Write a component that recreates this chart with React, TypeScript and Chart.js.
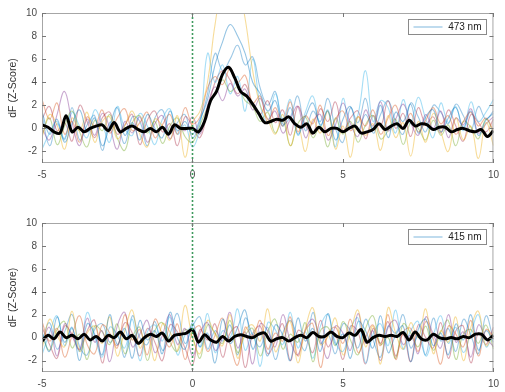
import React, { useEffect, useRef } from "react";
import { Chart, registerables } from "chart.js";

Chart.register(...registerables);

// ---------- data ----------
const TIME_TRACE = [
  -5, -4.75, -4.5, -4.25, -4, -3.75, -3.5, -3.25, -3, -2.75,
  -2.5, -2.25, -2, -1.75, -1.5, -1.25, -1, -0.75, -0.5, -0.25,
  0, 0.25, 0.5, 0.75, 1, 1.25, 1.5, 1.75, 2, 2.25,
  2.5, 2.75, 3, 3.25, 3.5, 3.75, 4, 4.25, 4.5, 4.75,
  5, 5.25, 5.5, 5.75, 6, 6.25, 6.5, 6.75, 7, 7.25,
  7.5, 7.75, 8, 8.25, 8.5, 8.75, 9, 9.25, 9.5, 9.75, 10,
];

const TIME_MEAN = [
  -5, -4.8, -4.6, -4.4, -4.2, -4, -3.8, -3.6, -3.4, -3.2,
  -3, -2.8, -2.6, -2.4, -2.2, -2, -1.8, -1.6, -1.4, -1.2,
  -1, -0.8, -0.6, -0.4, -0.2, 0, 0.2, 0.4, 0.6, 0.8,
  1, 1.2, 1.4, 1.6, 1.8, 2, 2.2, 2.4, 2.6, 2.8,
  3, 3.2, 3.4, 3.6, 3.8, 4, 4.2, 4.4, 4.6, 4.8,
  5, 5.2, 5.4, 5.6, 5.8, 6, 6.2, 6.4, 6.6, 6.8,
  7, 7.2, 7.4, 7.6, 7.8, 8, 8.2, 8.4, 8.6, 8.8,
  9, 9.2, 9.4, 9.6, 9.8, 10,
];

const X_TICKS = [-5, 0, 5, 10];
const Y_TICKS = [-2, 0, 2, 4, 6, 8, 10];
const Y_LABEL = "dF (Z-Score)";
const LEGEND_TOP = "473 nm";
const LEGEND_BOTTOM = "415 nm";

// mean traces (thick black)
const TOP_MEAN = [
  0.3, 0.1, -0.3, -0.4, 1.1, -0.3, 0.1, -0.3, 0.0, 0.2,
  0.3, -0.2, 0.5, -0.3, 0.0, 0.2, -0.1, -0.3, 0.0, -0.3,
  0.1, -0.5, 0.3, 0.0, 0.0, 0.0, -0.3, 0.6, 2.4, 3.2,
  4.7, 5.3, 4.4, 3.2, 2.8, 2.1, 1.3, 0.5, 0.6, 0.8,
  0.7, 1.0, 0.4, 0.1, 0.4, -0.4, 0.1, -0.3, 0.0, 0.0,
  -0.3, 0.0, 0.2, -0.4, -0.3, -0.1, 0.4, -0.1, 0.2, 0.4,
  0.0, 0.7, 0.2, 0.4, 0.3, -0.1, 0.1, 0.1, -0.3, -0.1,
  0.0, -0.2, -0.3, -0.1, -0.7, -0.2,
];

const BOTTOM_MEAN = [
  -0.3, 0.2, -0.1, 0.5, 0.0, 0.2, -0.1, 0.3, -0.2, 0.1,
  -0.3, 0.2, 0.0, 0.5, -0.1, 0.2, -0.5, 0.0, 0.3, 0.1,
  0.4, -0.3, 0.2, 0.3, 0.4, 0.7, -0.4, 0.25, -0.2, -0.4,
  0.1, -0.3, 0.1, 0.25, 0.1, 0.0, 0.3, 0.4, -0.3, -0.1,
  0.0, -0.3, 0.0, 0.2, 0.0, 0.45, 0.1, 0.1, 0.5, 0.1,
  0.0, 0.4, 0.2, 0.7, -0.4, 0.0, 0.2, 0.1, 0.2, 0.1,
  0.45, -0.2, 0.5, -0.1, -0.2, 0.3, 0.0, -0.1, 0.0, -0.1,
  0.1, 0.0, 0.3, 0.3, -0.2, 0.2,
];

// individual trials, 473 nm
const TOP_T1 = [
  1.5, -0.5, 0.8, -1.2, 0.4, 1.6, -0.3, 0.9, -1.5, 0.2,
  1.8, -0.6, 0.5, -1.0, 1.2, 0.0, -0.8, 1.5, -0.2, 0.6,
  -0.5, 0.8, 2.5, 5.5, 7.5, 9.0, 8.0, 6.5, 4.0, 3.0, 1.5,
  2.4, 0.2, 1.8, -0.5, 1.0, 2.2, 0.3, 1.5, -1.0, 0.8,
  1.9, -0.2, 1.2, 0.0, 2.0, -0.8, 1.4, 0.6, 2.1, -0.4,
  1.0, 1.6, -0.3, 0.9, 1.8, 0.1, 1.5, -0.6, 0.7, 1.3,
];
const TOP_T2 = [
  -0.8, 1.2, 0.3, -1.8, 0.9, -0.2, 1.4, -1.2, 0.6, 1.0,
  -0.9, 0.2, 1.5, -0.5, -1.6, 0.8, 0.2, -1.0, 1.1, -2.5,
  0.5, 1.5, 4.0, 9.0, 12.0, 11.0, 12.5, 9.5, 5.0, 2.0, 0.8,
  -0.5, 1.2, -1.5, 0.3, -2.0, 0.8, -0.4, 1.5, -1.8, 0.2,
  -2.5, 1.0, -0.6, 0.4, -1.9, 1.1, -0.8, 0.5, -2.4, 0.6,
  -1.2, 1.3, -0.3, -2.0, 0.9, -1.0, 0.2, -2.6, 0.5, -1.5,
];
const TOP_T3 = [
  2.5, 0.8, 2.2, -0.5, 0.6, -1.2, 1.0, 0.2, 1.6, -0.4,
  0.9, 1.7, -0.2, 0.5, 1.4, -0.8, 0.3, 1.2, -0.5, 1.8,
  0.4, 1.0, 3.5, 4.5, 3.8, 5.2, 4.0, 4.6, 2.2, 2.8, 0.5,
  1.8, 0.2, 2.3, -0.3, 1.1, 0.4, 2.0, -0.6, 0.8, 1.5,
  -0.2, 1.0, 0.2, 1.6, -0.5, 0.9, 2.0, 0.0, 1.3, -0.3,
  0.7, 1.8, 0.4, 1.1, -0.5, 0.6, 1.4, 0.2, 0.9, -0.2,
];
const TOP_T4 = [
  0.0, -1.0, 1.2, 3.2, 0.5, -1.5, 0.8, -0.6, 1.3, 0.1,
  -1.8, 0.6, -0.4, 1.0, -1.2, 0.4, 1.1, -0.9, 0.3, -0.2,
  1.0, -0.5, 2.0, 3.6, 2.4, 3.9, 2.8, 3.4, 1.6, 2.6, 0.8,
  1.5, -0.4, 0.8, 1.9, -0.8, 0.6, 1.2, -1.0, 0.3, 2.2,
  0.4, -0.7, 1.6, 0.2, 2.3, -0.2, 0.8, 2.1, 0.5, -0.6,
  1.2, 0.0, 1.5, -0.8, 0.9, 0.3, 1.7, -0.4, 0.4, 1.0,
];
const TOP_T5 = [
  -0.6, 0.9, -1.4, 0.2, 1.5, -0.3, -1.6, 0.7, -0.2, 1.2,
  -0.8, -1.9, 0.5, 1.1, -0.4, 0.6, -1.3, 0.2, 0.9, -0.7,
  -1.2, 0.3, 1.8, 3.0, 4.2, 3.2, 3.6, 2.4, 1.9, 0.6, 1.4,
  -0.4, 0.7, -1.5, 0.4, 1.0, -0.8, 0.2, -1.6, 0.9, -0.5,
  0.6, -1.2, 0.3, 1.1, -0.9, -0.2, 0.8, -1.4, 0.5, 0.0,
  -1.0, 0.7, -0.6, 0.3, -1.5, 0.6, 0.1, -0.9, 0.8, -0.4,
];
const TOP_T6 = [
  -1.8, -0.4, 0.6, -1.0, 1.4, 0.2, -0.8, 1.6, 0.4, -1.2,
  1.9, 0.0, -0.6, 1.3, 0.2, -1.4, 0.8, 1.7, -0.5, 0.3,
  -1.6, 0.2, 6.5, 4.0, 5.5, 3.0, 4.5, 1.5, 6.0, 2.0, 0.5,
  3.0, 0.8, 2.5, -0.6, 1.4, 2.8, 0.2, 1.6, -1.6, 2.6,
  0.0, 1.2, 5.0, 0.6, 2.4, 1.8, -0.4, 2.5, 0.4, 2.7,
  0.8, -0.8, 2.2, 0.5, 1.9, -0.2, 2.3, 0.6, 1.4, 2.5,
];
const TOP_T7 = [
  0.8, 1.9, -0.2, 0.5, -1.1, 2.0, 0.6, -0.8, 0.9, 1.4,
  -0.5, 0.3, 1.2, -1.4, 0.7, 1.5, -0.3, 0.4, -1.5, 1.0,
  0.2, -0.8, 1.5, 4.0, 5.0, 4.2, 3.0, 3.8, 2.0, 1.2, 2.4,
  0.5, 1.6, -0.6, 1.9, 0.3, -0.5, 1.7, 0.6, 2.3, -0.2,
  0.9, 1.5, -0.9, 1.1, 0.2, 2.4, 0.0, 1.3, -0.7, 1.8,
  0.4, 1.0, -0.4, 1.6, 0.2, -1.1, 1.2, 0.5, -0.3, 0.8,
];
const TOP_T8 = [
  1.2, -1.5, 0.4, -0.9, 1.8, -1.0, 0.3, 1.1, -1.9, 0.5,
  0.2, -1.3, 1.0, 0.6, -1.5, 0.9, 1.6, -0.4, 0.5, 1.2,
  -0.8, 0.6, 3.0, 6.5, 5.0, 6.0, 7.2, 5.5, 6.2, 3.5, 2.0,
  3.2, 0.4, 1.0, 2.8, -0.2, 1.5, 0.6, 2.6, 0.0, -1.2,
  1.8, 0.5, 2.6, -0.4, 1.2, 2.4, 0.6, -0.5, 2.2, 1.0,
  -0.3, 2.0, 1.4, 0.4, 2.1, 1.1, -0.2, 1.9, 0.8, 1.5,
];

// individual trials, 415 nm
const BOT_T1 = [
  0.5, -1.2, 1.8, -0.4, 0.9, -2.0, 1.2, 0.3, -1.5, 2.0,
  -0.6, 0.8, -1.8, 1.5, -0.2, 0.6, -1.4, 2.2, 0.0, -1.0,
  1.3, -0.8, 0.4, -2.2, 1.6, -0.5, 0.9, 2.4, -1.0, 0.5,
  -1.6, 1.1, 0.2, -2.0, 1.7, -0.3, 0.8, -1.2, 2.1, -0.6,
  0.3, -1.8, 1.4, 0.6, -0.9, 1.9, -1.3, 0.2, 1.0, -2.1,
  0.7, 1.6, -0.7, 0.4, -1.5, 1.2, -0.2, 2.0, -1.1, 0.6, -0.4,
];
const BOT_T2 = [
  -1.0, 1.6, 0.2, -0.8, 2.3, -1.2, 0.4, 1.0, -0.5, 1.8,
  -1.6, 0.6, 2.4, -0.9, 0.3, -2.0, 1.2, 0.5, -1.1, 2.8,
  0.0, -1.4, 1.5, 0.3, -0.7, 2.0, -1.8, 0.6, 1.1, -0.3,
  2.5, -1.2, 0.2, 1.4, -2.2, 0.8, 2.6, -0.6, 0.1, 1.7,
  -1.5, 0.5, 2.4, -0.8, 1.0, -2.3, 2.6, 0.4, -1.0, 1.3,
  0.0, 2.5, -1.4, 0.6, -0.4, 1.8, -2.0, 0.9, 2.3, -0.7, 0.5,
];
const BOT_T3 = [
  1.4, -0.3, 0.8, -1.7, 0.2, 1.9, -0.6, -1.4, 1.1, 0.4,
  -0.9, 2.0, -0.2, 0.7, -1.5, 1.6, 0.3, -0.8, 1.2, -1.9,
  0.5, 1.0, -1.2, 0.2, 1.7, -0.6, -2.4, 0.9, 0.1, 1.5,
  -1.0, 0.4, -0.3, 1.8, -1.6, 0.6, 1.2, -2.6, 0.3, 0.9,
  -0.5, 1.6, -1.3, 0.0, 1.1, -0.7, 2.0, -1.9, 0.5, 0.8,
  -1.2, 1.4, -0.1, -2.3, 1.0, 0.3, -0.8, 1.5, -1.6, 0.7, 0.1,
];
const BOT_T4 = [
  -0.5, 0.9, -1.6, 1.2, 0.1, -1.0, 1.7, -0.4, 0.6, -2.1,
  1.0, 2.2, -0.8, 0.3, 1.5, -1.3, 0.2, 2.0, -0.6, 0.8,
  -1.6, 0.4, 1.3, -1.1, 0.0, 2.2, -0.9, 0.5, -2.3, 1.2,
  0.6, -0.8, 2.0, -0.3, -1.5, 0.7, 1.6, -0.2, -1.8, 1.0,
  0.4, -1.1, 2.1, -0.5, 0.6, -2.0, 0.9, 1.5, -0.6, 0.2,
  -1.4, 1.8, 0.3, -0.9, 2.0, -0.4, 0.5, -1.7, 1.1, 0.0, -0.8,
];
const BOT_T5 = [
  0.2, -1.1, 0.7, 1.4, -0.9, 0.3, -1.9, 1.0, 0.5, -0.6,
  1.2, -1.4, 0.1, 0.9, -2.0, 0.6, 1.3, -0.4, -1.2, 0.7,
  0.0, -1.8, 1.1, 0.4, -0.5, 1.5, -1.3, 0.2, 0.8, -1.6,
  0.5, 1.6, -1.0, 0.3, -0.4, 1.3, -2.1, 0.6, 0.9, -0.7,
  1.4, -0.2, -1.5, 0.8, 1.9, -0.6, 0.0, -1.8, 1.2, 0.4,
  -0.8, 1.0, -1.1, 0.5, 1.5, -1.9, 0.3, 0.7, -0.5, 1.1, -1.0,
];
const BOT_T6 = [
  -1.5, 0.4, 1.9, -0.7, 0.8, -1.2, 2.2, 0.1, -1.7, 0.9,
  0.3, -0.9, 1.6, -2.0, 0.5, 1.1, -0.3, 1.8, -1.5, 0.2,
  0.9, -0.8, 2.1, -1.3, 0.6, 0.0, 2.5, -1.1, 0.4, -2.5,
  1.3, 0.7, -0.6, 2.2, -0.9, 0.5, -1.8, 1.0, 2.0, -0.4,
  -1.2, 0.8, 1.7, -2.2, 0.3, 1.2, -0.7, 2.4, -1.0, 0.6,
  1.4, -1.6, 0.2, 1.9, -0.5, 0.9, -1.3, 0.4, 2.0, -0.8, 0.3,
];
const BOT_T7 = [
  0.9, -0.6, -1.8, 1.0, 0.3, -1.1, 0.6, 1.5, -2.2, 0.2,
  -0.7, 1.3, 0.4, -1.6, 0.8, -0.4, -2.0, 1.1, 0.5, -0.9,
  -2.4, 0.7, -0.2, 1.2, -1.7, 0.4, 0.9, -2.6, 0.3, 1.0,
  -1.4, -0.3, 1.2, -2.0, 0.6, 0.1, -1.3, 1.5, -0.8, 0.2,
  -1.9, 1.0, 0.5, -2.3, 0.8, -0.5, 1.4, -1.6, 0.3, -2.1,
  1.1, 0.0, -0.9, 1.3, -1.8, 0.6, 1.0, -2.2, 0.4, -0.6, 0.9,
];
const BOT_T8 = [
  -0.3, 1.3, -1.0, 0.5, 2.0, -0.8, -1.5, 0.7, 1.2, -0.4,
  0.2, -1.7, 1.9, 0.0, -0.6, 1.4, -1.1, 0.3, 2.1, -0.5,
  1.0, 1.8, -1.0, 0.6, -0.3, 1.1, -1.5, 1.7, 0.2, -0.8,
  0.9, -1.9, 0.4, 1.5, 0.0, -1.1, 2.2, -0.5, 0.3, -1.4,
  1.2, 0.6, -0.9, 1.6, -0.2, -1.7, 1.0, 0.4, 2.0, -0.9,
  0.1, -1.5, 1.7, -0.3, 0.8, -1.2, 1.6, 0.2, -1.4, 1.9, -0.2,
];

const TOP_TRIALS = [TOP_T1, TOP_T2, TOP_T3, TOP_T4, TOP_T5, TOP_T6, TOP_T7, TOP_T8];
const BOT_TRIALS = [BOT_T1, BOT_T2, BOT_T3, BOT_T4, BOT_T5, BOT_T6, BOT_T7, BOT_T8];

const TRIAL_COLORS = [
  "rgba(0,114,189,0.42)",
  "rgba(237,177,32,0.45)",
  "rgba(217,83,25,0.42)",
  "rgba(126,47,142,0.42)",
  "rgba(119,172,48,0.45)",
  "rgba(77,190,238,0.5)",
  "rgba(162,20,47,0.38)",
  "rgba(0,114,189,0.38)",
];

const FONT_FAMILY = "'Liberation Sans', Arial, Helvetica, sans-serif";
const W = 505;
const H = 196;

// ---------- plugin: MATLAB-like frame, ticks, legend, stimulus line ----------
const matlabPlugin = {
  id: "matlabFrame",
  afterDatasetsDraw(chart: any, _args: any, opts: any) {
    const { ctx, chartArea: a, scales } = chart;
    const x = scales.x;
    const y = scales.y;
    ctx.save();

    // stimulus line at t = 0
    const gx = Math.round(x.getPixelForValue(0)) + 0.5;
    ctx.strokeStyle = "#3f9a5e";
    ctx.lineWidth = 1.6;
    ctx.setLineDash([2, 2]);
    ctx.beginPath();
    ctx.moveTo(gx, opts.lineFromCanvasTop ? 0 : a.top);
    ctx.lineTo(gx, opts.lineToCanvasBottom ? chart.height : a.bottom);
    ctx.stroke();
    ctx.setLineDash([]);

    // frame
    ctx.strokeStyle = "#a6a6a6";
    ctx.lineWidth = 1;
    ctx.strokeRect(a.left + 0.5, a.top + 0.5, a.right - a.left - 1, a.bottom - a.top - 1);

    // inward ticks
    ctx.strokeStyle = "#777";
    ctx.beginPath();
    for (const v of Y_TICKS) {
      const py = Math.round(y.getPixelForValue(v)) + 0.5;
      ctx.moveTo(a.left, py);
      ctx.lineTo(a.left + 4, py);
      ctx.moveTo(a.right, py);
      ctx.lineTo(a.right - 4, py);
    }
    for (const v of X_TICKS) {
      const px = Math.round(x.getPixelForValue(v)) + 0.5;
      ctx.moveTo(px, a.bottom);
      ctx.lineTo(px, a.bottom - 4);
      ctx.moveTo(px, a.top);
      ctx.lineTo(px, a.top + 4);
    }
    ctx.stroke();

    // legend box
    const bw = 78;
    const bh = 15;
    const bx = Math.round(a.right - 7 - bw) + 0.5;
    const by = Math.round(a.top + 6) + 0.5;
    ctx.fillStyle = "#fff";
    ctx.fillRect(bx, by, bw, bh);
    ctx.strokeStyle = "#8a8a8a";
    ctx.lineWidth = 1;
    ctx.strokeRect(bx, by, bw, bh);
    ctx.strokeStyle = "rgba(0,114,189,0.5)";
    ctx.beginPath();
    ctx.moveTo(bx + 5, by + bh / 2);
    ctx.lineTo(bx + 34, by + bh / 2);
    ctx.stroke();
    ctx.fillStyle = "#222";
    ctx.font = `10px ${FONT_FAMILY}`;
    ctx.textAlign = "right";
    ctx.textBaseline = "middle";
    ctx.fillText(opts.legendText, bx + bw - 5, by + bh / 2 + 0.5);

    // y label
    ctx.translate(13, (a.top + a.bottom) / 2);
    ctx.rotate(-Math.PI / 2);
    ctx.textAlign = "center";
    ctx.textBaseline = "middle";
    ctx.fillStyle = "#333";
    ctx.font = `10.5px ${FONT_FAMILY}`;
    ctx.fillText(Y_LABEL, 0, 0);

    ctx.restore();
  },
};

type PanelProps = {
  mean: number[];
  trials: number[][];
  legendText: string;
  padTop: number;
  xAxisHeight: number;
  lineFromCanvasTop: boolean;
  lineToCanvasBottom: boolean;
};

function Panel(props: PanelProps) {
  const ref = useRef<HTMLCanvasElement | null>(null);

  useEffect(() => {
    if (!ref.current) return;
    const datasets: any[] = [
      {
        data: props.mean.map((v, i) => ({ x: TIME_MEAN[i], y: v })),
        borderColor: "#000",
        borderWidth: 3,
        tension: 0.35,
        pointRadius: 0,
        order: 0,
      },
      ...props.trials.map((arr, k) => ({
        data: arr.map((v, i) => ({ x: TIME_TRACE[i], y: v })),
        borderColor: TRIAL_COLORS[k % TRIAL_COLORS.length],
        borderWidth: 1.1,
        tension: 0.4,
        pointRadius: 0,
        order: 1,
      })),
    ];

    const tickFont = { family: FONT_FAMILY, size: 10 };
    const chart = new Chart(ref.current, {
      type: "line",
      data: { datasets },
      options: {
        animation: false,
        responsive: false,
        maintainAspectRatio: false,
        layout: { padding: { top: props.padTop, right: 7, left: 0, bottom: 0 } },
        plugins: {
          legend: { display: false },
          tooltip: { enabled: false },
          matlabFrame: {
            legendText: props.legendText,
            lineFromCanvasTop: props.lineFromCanvasTop,
            lineToCanvasBottom: props.lineToCanvasBottom,
          },
        } as any,
        scales: {
          x: {
            type: "linear",
            min: -5,
            max: 10,
            grid: { display: false, drawTicks: false },
            border: { display: false },
            ticks: { stepSize: 5, padding: 6, font: tickFont, color: "#4a4a4a", maxRotation: 0, autoSkip: false },
            afterFit: (s: any) => {
              s.height = props.xAxisHeight;
            },
          },
          y: {
            type: "linear",
            min: -3,
            max: 10,
            grid: { display: false, drawTicks: false },
            border: { display: false },
            ticks: { padding: 5, font: tickFont, color: "#4a4a4a", autoSkip: false },
            afterBuildTicks: (s: any) => {
              s.ticks = Y_TICKS.map((v) => ({ value: v }));
            },
            afterFit: (s: any) => {
              s.width = 42;
            },
          },
        },
      } as any,
      plugins: [matlabPlugin],
    });
    return () => chart.destroy();
  }, []);

  return <canvas ref={ref} width={W} height={H} style={{ display: "block", width: W, height: H }} />;
}

export default function App() {
  useEffect(() => {
    document.body.style.margin = "0";
    document.body.style.background = "#fff";
  }, []);
  return (
    <div style={{ width: W, height: 392, background: "#fff" }}>
      <Panel
        mean={TOP_MEAN}
        trials={TOP_TRIALS}
        legendText={LEGEND_TOP}
        padTop={13}
        xAxisHeight={33}
        lineFromCanvasTop={false}
        lineToCanvasBottom={true}
      />
      <Panel
        mean={BOTTOM_MEAN}
        trials={BOT_TRIALS}
        legendText={LEGEND_BOTTOM}
        padTop={27}
        xAxisHeight={20}
        lineFromCanvasTop={true}
        lineToCanvasBottom={false}
      />
    </div>
  );
}
